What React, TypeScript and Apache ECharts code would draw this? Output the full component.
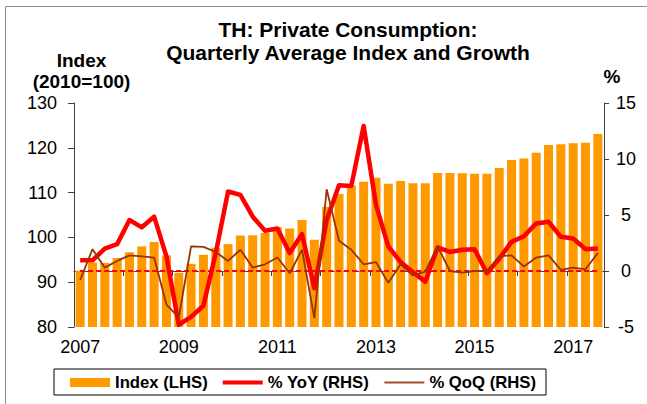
import React, { useEffect, useRef } from 'react';
import * as echarts from 'echarts';

const quarters = [
  '2007Q1', '2007Q2', '2007Q3', '2007Q4',
  '2008Q1', '2008Q2', '2008Q3', '2008Q4',
  '2009Q1', '2009Q2', '2009Q3', '2009Q4',
  '2010Q1', '2010Q2', '2010Q3', '2010Q4',
  '2011Q1', '2011Q2', '2011Q3', '2011Q4',
  '2012Q1', '2012Q2', '2012Q3', '2012Q4',
  '2013Q1', '2013Q2', '2013Q3', '2013Q4',
  '2014Q1', '2014Q2', '2014Q3', '2014Q4',
  '2015Q1', '2015Q2', '2015Q3', '2015Q4',
  '2016Q1', '2016Q2', '2016Q3', '2016Q4',
  '2017Q1', '2017Q2', '2017Q3',
];

const indexValues = [
  92.6, 94.4, 94.3, 95.4,
  96.7, 98.0, 99.0, 96.0,
  92.1, 94.1, 96.1, 97.7,
  98.5, 100.4, 100.5, 101.0,
  102.3, 102.0, 103.9, 99.5,
  106.8, 109.7, 111.6, 112.4,
  113.3, 112.0, 112.6, 112.1,
  112.1, 114.4, 114.4, 114.3,
  114.2, 114.2, 115.5, 117.3,
  117.6, 118.9, 120.6, 120.8,
  121.0, 121.1, 123.1,
];

const yoyValues = [
  0.95, 0.95, 2.0, 2.4,
  4.55, 3.9, 4.85, 1.3,
  -4.8, -4.1, -3.1, 1.6,
  7.1, 6.8, 4.85, 3.6,
  3.8, 1.6, 3.3, -1.55,
  4.55, 7.65, 7.6, 12.95,
  5.9, 2.2, 0.8, -0.1,
  -0.95, 2.1, 1.7, 1.9,
  1.95, -0.2, 1.1, 2.6,
  3.1, 4.25, 4.4, 3.05,
  2.9, 1.95, 2.0,
];

const qoqValues = [
  -0.8, 1.95, 0.3, 0.9,
  1.4, 1.3, 1.2, -3.0,
  -4.15, 2.2, 2.15, 1.7,
  0.9, 1.9, 0.3, 0.6,
  1.2, -0.2, 1.9, -4.2,
  7.3, 2.7, 1.9, 0.6,
  0.8, -1.05, 0.6, -0.4,
  -0.05, 2.2, 0.0, -0.15,
  0.0, 0.0, 1.3, 1.4,
  0.4, 1.2, 1.4, 0.1,
  0.3, 0.15, 1.6,
];

const tickYears = ['2007', '2008', '2009', '2010', '2011', '2012', '2013', '2014', '2015', '2016', '2017'];
const labelYears = ['2007', '2009', '2011', '2013', '2015', '2017'];

const leftTicks = { min: 80, max: 130, interval: 10 };
const rightTicks = { min: -5, max: 15, interval: 5 };

const FONT = '"Liberation Sans", Arial, Helvetica, sans-serif';

export default function App() {
  const ref = useRef<HTMLDivElement>(null);

  useEffect(() => {
    if (!ref.current) return;
    const chart = echarts.init(ref.current, undefined, { renderer: 'svg' });

    const pos = (i: number) => i + 0.5;
    const tickPos = tickYears.map((y) => quarters.indexOf(y + 'Q1'));
    const labelPos = labelYears.map((y) => quarters.indexOf(y + 'Q1') + 0.5);

    const option: any = {
      animation: false,
      textStyle: { fontFamily: FONT },
      title: {
        text: 'TH: Private Consumption:\nQuarterly Average Index and Growth',
        left: 348,
        top: 18,
        textAlign: 'center',
        padding: 0,
        textStyle: {
          fontFamily: FONT,
          fontSize: 21,
          fontWeight: 'bold',
          lineHeight: 23,
          color: '#000',
        },
      },
      graphic: [
        {
          type: 'rect',
          silent: true,
          shape: { x: 5.5, y: 6.5, width: 700, height: 500 },
          style: { fill: 'none', stroke: '#8c8c8c', lineWidth: 1 },
          z: -10,
        },
      ],
      legend: {
        left: 54,
        top: 369,
        orient: 'horizontal',
        itemWidth: 40,
        itemHeight: 9,
        itemGap: 15,
        padding: [5, 10, 4, 16],
        borderColor: '#000',
        borderWidth: 1,
        borderRadius: 0,
        selectedMode: false,
        symbolKeepAspect: true,
        textStyle: { fontFamily: FONT, fontSize: 16.7, fontWeight: 'bold', color: '#000' },
        data: [
          { name: 'Index (LHS)', icon: 'rect', itemStyle: { color: '#FF9900', borderWidth: 0 } },
          { name: '% YoY (RHS)', icon: 'path://M0,0H40V4H0Z', itemStyle: { color: '#FF0000', borderWidth: 0 } },
          { name: '% QoQ (RHS)', icon: 'path://M0,0H40V2H0Z', itemStyle: { color: '#A0522D', borderWidth: 0 } },
        ],
      },
      grid: { left: 74, right: 43, top: 103, bottom: 77 },
      xAxis: {
        type: 'value',
        min: 0,
        max: quarters.length,
        splitLine: { show: false },
        axisLine: { show: true, lineStyle: { color: '#404040', width: 1 } },
        axisTick: {
          show: true,
          customValues: tickPos,
          length: 5,
          lineStyle: { color: '#404040' },
        },
        axisLabel: {
          customValues: labelPos,
          formatter: (v: number) => quarters[Math.floor(v)].slice(0, 4),
          fontFamily: FONT,
          fontSize: 18,
          color: '#000',
          margin: 11,
        },
      },
      yAxis: [
        {
          type: 'value',
          position: 'left',
          min: leftTicks.min,
          max: leftTicks.max,
          interval: leftTicks.interval,
          splitLine: { show: false },
          axisLine: { show: true, lineStyle: { color: '#404040', width: 1 } },
          axisTick: { show: true, length: 6, lineStyle: { color: '#404040' } },
          axisLabel: { fontFamily: FONT, fontSize: 18, color: '#000', margin: 17 },
          name: 'Index\n(2010=100)',
          nameLocation: 'end',
          nameGap: 11,
          nameTextStyle: {
            fontFamily: FONT,
            fontSize: 19,
            fontWeight: 'bold',
            color: '#000',
            lineHeight: 21,
            align: 'center',
            padding: [0, 0, 0, 15],
          },
        },
        {
          type: 'value',
          position: 'right',
          min: rightTicks.min,
          max: rightTicks.max,
          interval: rightTicks.interval,
          splitLine: { show: false },
          axisLine: { show: true, lineStyle: { color: '#404040', width: 1 } },
          axisTick: { show: true, length: 5, lineStyle: { color: '#404040' } },
          axisLabel: { fontFamily: FONT, fontSize: 18, color: '#000', margin: 22, align: 'center' },
          name: '%',
          nameLocation: 'end',
          nameGap: 16,
          nameTextStyle: {
            fontFamily: FONT,
            fontSize: 19,
            fontWeight: 'bold',
            color: '#000',
            lineHeight: 21,
            align: 'center',
            padding: [0, 0, 0, 16],
          },
        },
      ],
      series: [
        {
          name: 'Index (LHS)',
          type: 'bar',
          yAxisIndex: 0,
          barWidth: 9,
          itemStyle: { color: '#FF9900' },
          data: indexValues.map((v, i) => [pos(i), v]),
        },
        {
          name: 'zero',
          type: 'line',
          yAxisIndex: 1,
          symbol: 'none',
          silent: true,
          lineStyle: { color: '#FF0000', width: 2, type: [5, 3] },
          data: quarters.map((_, i) => [pos(i), 0]),
        },
        {
          name: '% YoY (RHS)',
          type: 'line',
          yAxisIndex: 1,
          symbol: 'none',
          lineStyle: { color: '#FF0000', width: 4.5, join: 'round' },
          itemStyle: { color: '#FF0000' },
          data: yoyValues.map((v, i) => [pos(i), v]),
        },
        {
          name: '% QoQ (RHS)',
          type: 'line',
          yAxisIndex: 1,
          symbol: 'none',
          lineStyle: { color: '#993300', width: 1.8 },
          itemStyle: { color: '#993300' },
          data: qoqValues.map((v, i) => [pos(i), v]),
        },
      ],
    };

    chart.setOption(option);
    return () => chart.dispose();
  }, []);

  return (
    <div
      ref={ref}
      style={{ position: 'fixed', left: 0, top: 0, width: 647, height: 404, overflow: 'hidden', background: '#fff' }}
    />
  );
}
